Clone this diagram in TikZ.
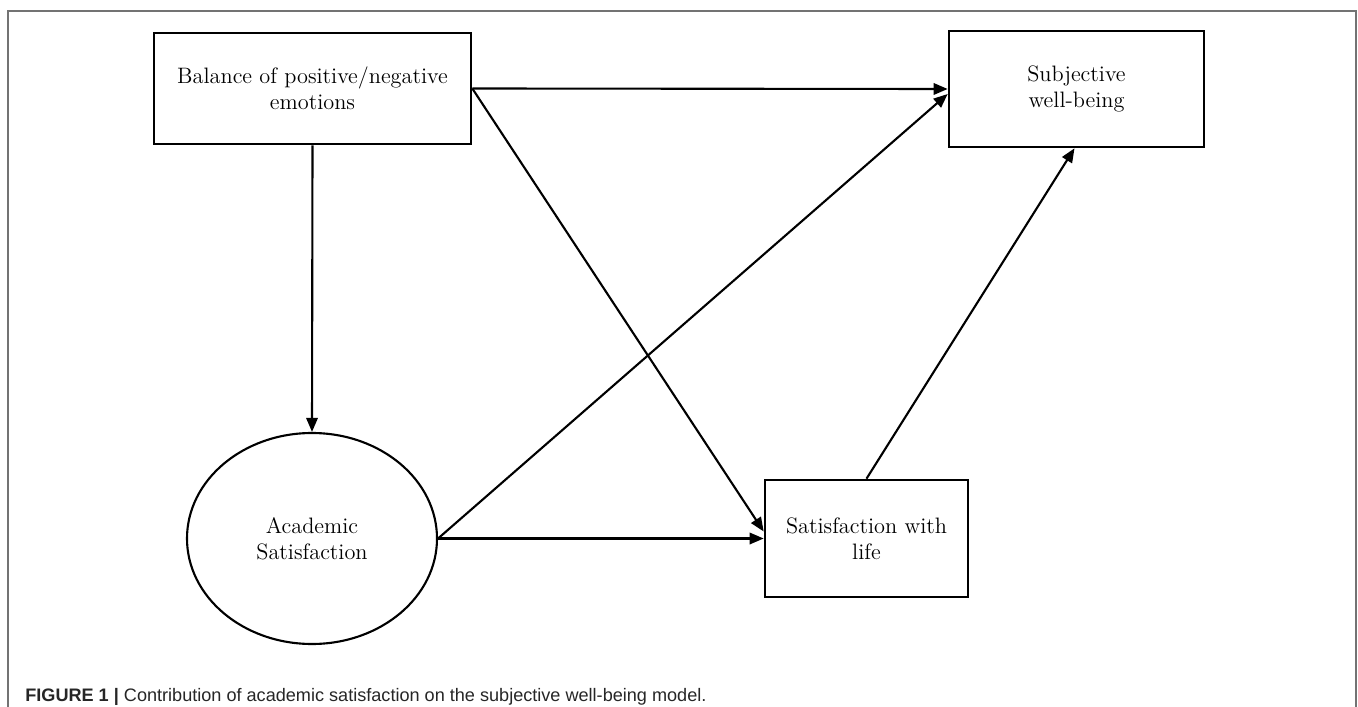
\documentclass[tikz,border=0pt]{standalone}
\usepackage{fontspec}
\newfontfamily\capfont{Liberation Sans}
\usetikzlibrary{calc,arrows.meta,shapes.geometric}
\begin{document}
\begin{tikzpicture}[x=0.2mm,y=-0.2mm,
  varbox/.style={draw=black,line width=1.5pt,rectangle,align=center,
    font=\fontsize{12.7}{14.7}\selectfont,inner sep=0pt},
  latent/.style={draw=black,line width=1.2pt,ellipse,align=center,
    font=\fontsize{12.7}{14.7}\selectfont,inner sep=0pt},
  path/.style={line width=1.2pt,-{Triangle[length=8pt,width=6.5pt]}},
  frameline/.style={draw=black!55,line width=0.8pt}]
\useasboundingbox (0,0) rectangle (1358,707);
% panel frame
\draw[frameline] (8,707) -- (8,11) -- (1356,11) -- (1356,707);
% variables
\node[varbox,minimum width=317*0.2mm,minimum height=111*0.2mm] (bal) at (312.5,88.5)
  {Balance of positive/negative\\emotions};
\node[varbox,minimum width=255*0.2mm,minimum height=116*0.2mm] (swb) at (1076.5,89)
  {Subjective\\well-being};
\node[varbox,minimum width=203*0.2mm,minimum height=117*0.2mm] (swl) at (866.5,538.5)
  {Satisfaction with\\life};
\node[latent,minimum width=250*0.2mm,minimum height=211*0.2mm] (acs) at (312,538.5)
  {Academic\\Satisfaction};
% paths
\draw[path] (bal.south) -- (acs.north);
\draw[path] (bal.east) -- (swb.west);
\draw[path] (bal.east) -- ($(swl.west)+(0,-7)$);
\draw[path] (acs.east) -- (swl.west);
\draw[path] (acs.east) -- ($(swb.west)+(0,5)$);
\draw[path] (swl.north) -- ($(swb.south)+(-2,0)$);
% caption
\node[anchor=west,inner sep=0pt,font=\capfont\fontsize{10.3}{12}\selectfont,text=black!85] (cap) at (25,697)
  {\textbf{FIGURE 1 |} Contribution of academic satisfaction on the subjective well-being model.};
\end{tikzpicture}
\end{document}
